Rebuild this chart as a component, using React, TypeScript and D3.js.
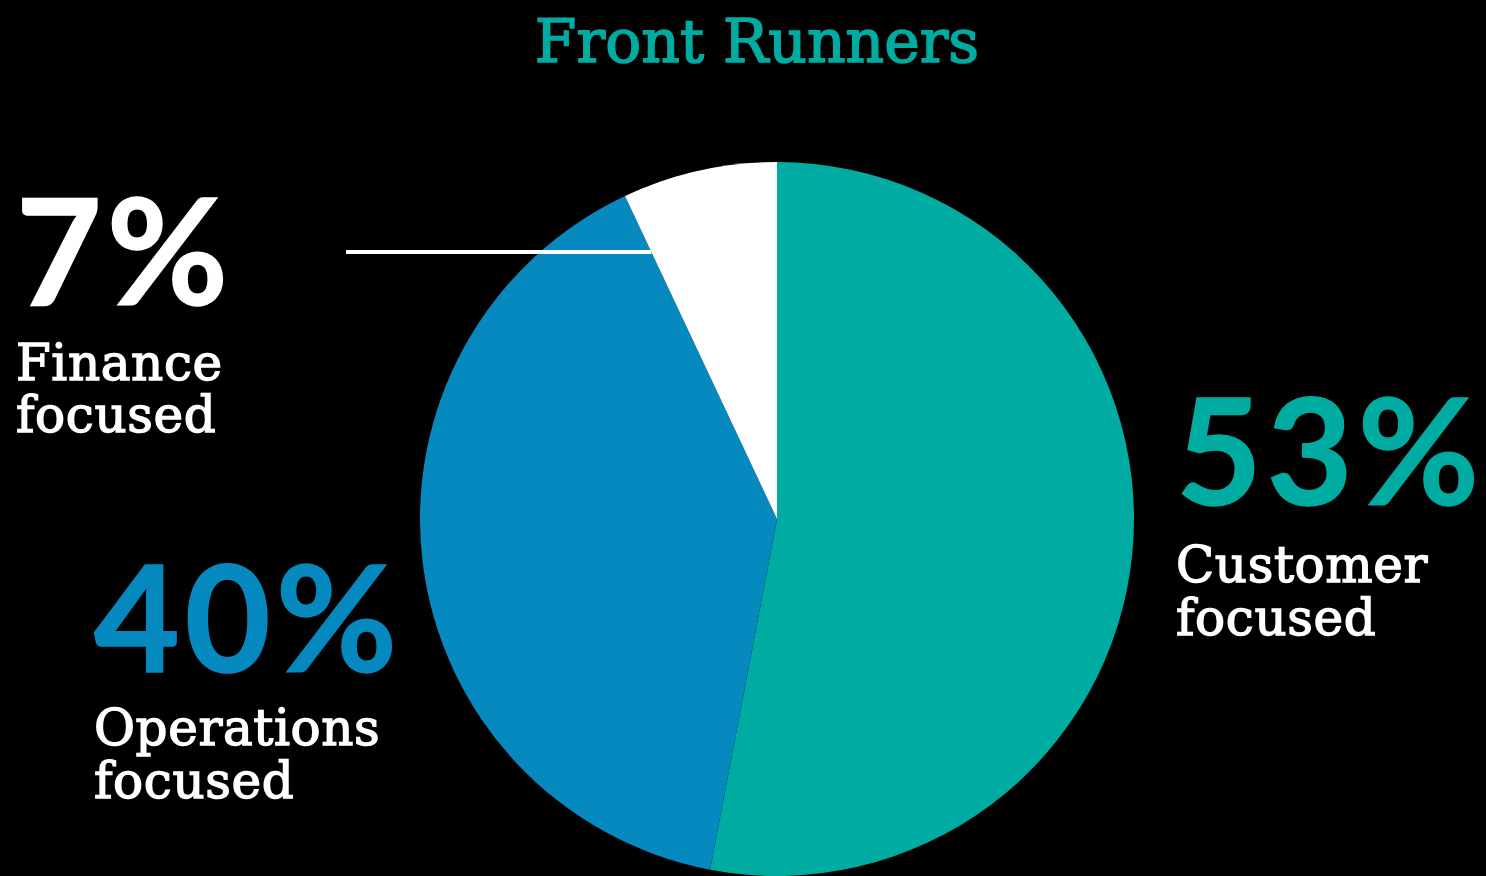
import React from "react";
import * as d3 from "d3";

const categories = ["Customer", "Operations", "Finance"];
const values = [53, 40, 7];
const labelLines = [["Customer", "focused"], ["Operations", "focused"], ["Finance", "focused"]];
const title = "Front Runners";

const W = 1486;
const H = 876;
const colors = ["#00ABA2", "#0589BF", "#FFFFFF"];
const pctColors = ["#00ABA2", "#0589BF", "#FFFFFF"];
const slabFont = "'DejaVu Serif', serif";
const numFont = "Lato, 'DejaVu Sans', sans-serif";

// label anchor layout (per category)
const labelPos = [
  { x: 1176, pctY: 505, l1: 582, l2: 635 },
  { x: 94, pctY: 672, l1: 745, l2: 798 },
  { x: 16, pctY: 305, l1: 380, l2: 432 },
];

export default function App() {
  const cx = 777, cy = 519, r = 357;
  const pie = d3.pie<number>().value((d) => d).sort(null)(values);
  const arc = d3.arc<d3.PieArcDatum<number>>().innerRadius(0).outerRadius(r);
  // leader line for the finance slice, ending at the slice's edge
  const fin = pie[2];
  const leaderY = 252;
  const leaderEndX = cx + Math.tan(fin.startAngle) * (cy - leaderY);
  return (
    <div style={{ position: "fixed", left: 0, top: 0, width: W, height: H, background: "#000" }}>
      <svg width={W} height={H} style={{ display: "block" }}>
        <rect width={W} height={H} fill="#000" />
        <text x={757} y={62} textAnchor="middle" fill="#00ABA2" stroke="#00ABA2" strokeWidth={1.6}
          fontFamily={slabFont} fontSize={60}>
          {title}
        </text>
        <g transform={`translate(${cx},${cy})`}>
          {pie.map((p, i) => (
            <path key={categories[i]} d={arc(p) || ""} fill={colors[i]} />
          ))}
        </g>
        <line x1={346} x2={leaderEndX} y1={leaderY} y2={leaderY} stroke="#fff" strokeWidth={4} />
        {categories.map((c, i) => {
          const lp = labelPos[i];
          return (
            <g key={c}>
              <text x={lp.x} y={lp.pctY} fill={pctColors[i]} stroke={pctColors[i]} strokeWidth={1.5}
                fontFamily={numFont} fontWeight={700} fontSize={148} letterSpacing={5}>
                {values[i]}%
              </text>
              <text x={lp.x} y={lp.l1} fill="#fff" stroke="#fff" strokeWidth={1.4} fontFamily={slabFont}
                fontSize={50} letterSpacing={0.6}>
                {labelLines[i][0]}
              </text>
              <text x={lp.x} y={lp.l2} fill="#fff" stroke="#fff" strokeWidth={1.4} fontFamily={slabFont}
                fontSize={50} letterSpacing={0.6}>
                {labelLines[i][1]}
              </text>
            </g>
          );
        })}
      </svg>
    </div>
  );
}
